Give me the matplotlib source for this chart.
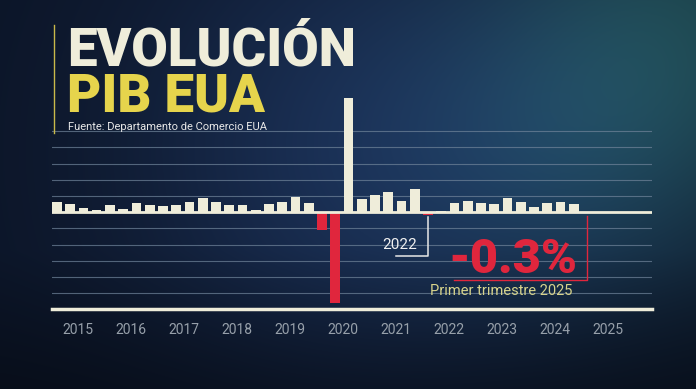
import numpy as np
import matplotlib.pyplot as plt

years = [str(y) for y in range(2015, 2026)]
gdp = [3.3, 2.4, 1.4, 0.8,
       2.1, 1.1, 2.7, 2.1,
       2.0, 2.3, 3.1, 4.4,
       3.2, 2.1, 2.3, 0.8,
       2.4, 3.2, 4.7, 2.7,
       -5.5, -28.0, 35.2, 4.1,
       5.4, 6.2, 3.4, 7.1,
       -1.0, 0.3, 2.7, 3.4,
       2.8, 2.4, 4.4, 3.2,
       1.6, 3.0, 3.1, 2.4,
       -0.3]
grid_levels = [-25, -20, -15, -10, -5, 5, 10, 15, 20, 25]

CREAM = '#efedda'
RED = '#e0263d'
YELLOW = '#e6d44c'

W, H = 696, 389
fig = plt.figure(figsize=(W / 100, H / 100), dpi=100)

# background
bg = fig.add_axes([0, 0, 1, 1])
yy, xx = np.mgrid[0:H, 0:W]
base = np.array([0.045, 0.08, 0.15])
img = np.ones((H, W, 3)) * base
def blob(cx, cy, r, col):
    g = np.exp(-(((xx - cx) ** 2 + (yy - cy) ** 2) / (2 * r ** 2)))
    return g[..., None] * np.array(col)
img = img + blob(390, 150, 180, [0.06, 0.11, 0.19])
img = img + blob(690, 30, 140, [0.06, 0.17, 0.12])
img = img + blob(580, 150, 110, [0.02, 0.06, 0.07])
dark = np.clip((yy - 250) / 139.0, 0, 1)[..., None] * 0.35
img = img * (1 - dark)
img = np.clip(img, 0, 1)
bg.imshow(img, aspect='auto', extent=[0, W, H, 0])
bg.set_xlim(0, W)
bg.set_ylim(H, 0)
bg.axis('off')

ax = fig.add_axes([0.0747, 0.2044, 0.862, 0.550])
ax.patch.set_alpha(0)
x = np.arange(len(gdp))
colors = [RED if v < 0 else CREAM for v in gdp]
ax.bar(x, gdp, width=0.73, color=colors, zorder=3)
for g in grid_levels:
    ax.axhline(g, color='#70849a', lw=0.8, alpha=0.7, zorder=1)
ax.axhline(0, color=CREAM, lw=2.0, zorder=4)
ax.axhline(-30, color=CREAM, lw=2.5, zorder=4, clip_on=False)
ax.set_xlim(-0.37, 44.9)
ax.set_ylim(-30, 36)
for s in ax.spines.values():
    s.set_visible(False)
ax.set_yticks([])
ax.set_xticks([4 * k + 1.6 for k in range(len(years))])
ax.set_xticklabels(years, fontsize=10, color='#97a0aa', family='Roboto')
ax.tick_params(axis='x', length=0, pad=10)

# annotations
ax.plot([28, 28, 25.55], [-1.5, -13.5, -13.5], color='#e8e8e8', lw=1.1, zorder=5)
ax.text(27.2, -10.2, '2022', ha='right', va='center', fontsize=11,
        color='#f0f0f0', family='Roboto', zorder=5)
ax.plot([40, 40, 30.0], [-1.3, -21, -21], color=RED, lw=1.0, zorder=5)
ax.text(39.3, -14.6, '-0.3%', ha='right', va='center', fontsize=35,
        color=RED, family='Roboto', fontweight='black', zorder=5)
ax.text(33.5, -24.3, 'Primer trimestre 2025', ha='center', va='center',
        fontsize=10.5, color='#d8d48c', family='Roboto', zorder=5)

# title block
fig.add_artist(plt.Line2D([54 / W, 54 / W], [1 - 25 / H, 1 - 133 / H],
                          color='#c9b94a', lw=1.0))
fig.text(67 / W, 1 - 65 / H, 'EVOLUCIÓN', fontsize=38, color=CREAM,
         family='Roboto', fontweight='black', va='baseline')
fig.text(67 / W, 1 - 111 / H, 'PIB EUA', fontsize=38, color=YELLOW,
         family='Roboto', fontweight='black', va='baseline')
fig.text(68 / W, 1 - 126.5 / H, 'Fuente: Departamento de Comercio EUA',
         fontsize=8, color='#e8e8e8', family='Roboto', va='center')

fig.savefig('out.png', dpi=100)
